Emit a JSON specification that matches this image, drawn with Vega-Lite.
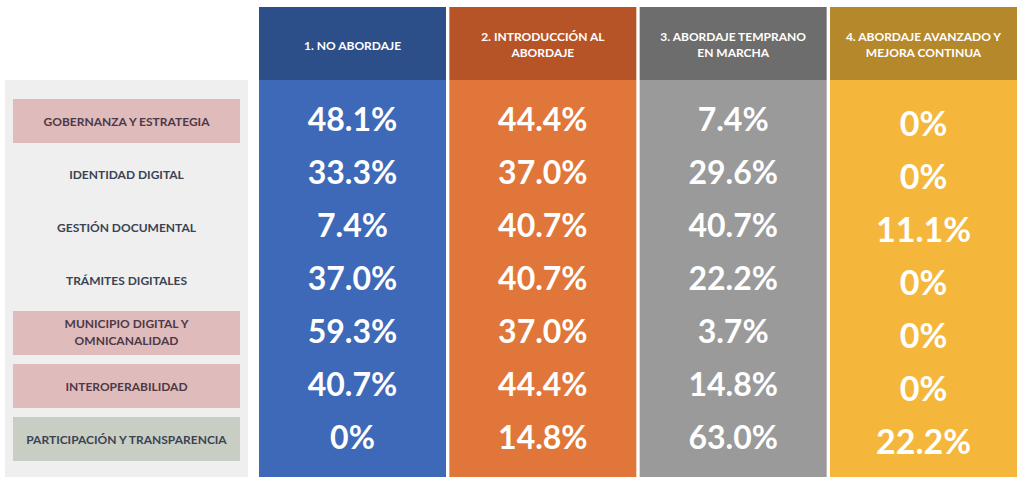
{
  "$schema": "https://vega.github.io/schema/vega-lite/v6.json",
  "padding": {"left": 5, "top": 7, "right": 7, "bottom": 4},
  "background": "white",
  "config": {"view": {"stroke": null}, "font": "Lato"},
  "datasets": {
    "valores": [
      {"area": "GOBERNANZA Y ESTRATEGIA", "nivel": "1. NO ABORDAJE", "valor": 0.481},
      {"area": "GOBERNANZA Y ESTRATEGIA", "nivel": "2. INTRODUCCIÓN AL\nABORDAJE", "valor": 0.444},
      {"area": "GOBERNANZA Y ESTRATEGIA", "nivel": "3. ABORDAJE TEMPRANO\nEN MARCHA", "valor": 0.074},
      {"area": "GOBERNANZA Y ESTRATEGIA", "nivel": "4. ABORDAJE AVANZADO Y\nMEJORA CONTINUA", "valor": 0},
      {"area": "IDENTIDAD DIGITAL", "nivel": "1. NO ABORDAJE", "valor": 0.333},
      {"area": "IDENTIDAD DIGITAL", "nivel": "2. INTRODUCCIÓN AL\nABORDAJE", "valor": 0.370},
      {"area": "IDENTIDAD DIGITAL", "nivel": "3. ABORDAJE TEMPRANO\nEN MARCHA", "valor": 0.296},
      {"area": "IDENTIDAD DIGITAL", "nivel": "4. ABORDAJE AVANZADO Y\nMEJORA CONTINUA", "valor": 0},
      {"area": "GESTIÓN DOCUMENTAL", "nivel": "1. NO ABORDAJE", "valor": 0.074},
      {"area": "GESTIÓN DOCUMENTAL", "nivel": "2. INTRODUCCIÓN AL\nABORDAJE", "valor": 0.407},
      {"area": "GESTIÓN DOCUMENTAL", "nivel": "3. ABORDAJE TEMPRANO\nEN MARCHA", "valor": 0.407},
      {"area": "GESTIÓN DOCUMENTAL", "nivel": "4. ABORDAJE AVANZADO Y\nMEJORA CONTINUA", "valor": 0.111},
      {"area": "TRÁMITES DIGITALES", "nivel": "1. NO ABORDAJE", "valor": 0.370},
      {"area": "TRÁMITES DIGITALES", "nivel": "2. INTRODUCCIÓN AL\nABORDAJE", "valor": 0.407},
      {"area": "TRÁMITES DIGITALES", "nivel": "3. ABORDAJE TEMPRANO\nEN MARCHA", "valor": 0.222},
      {"area": "TRÁMITES DIGITALES", "nivel": "4. ABORDAJE AVANZADO Y\nMEJORA CONTINUA", "valor": 0},
      {"area": "MUNICIPIO DIGITAL Y\nOMNICANALIDAD", "nivel": "1. NO ABORDAJE", "valor": 0.593},
      {"area": "MUNICIPIO DIGITAL Y\nOMNICANALIDAD", "nivel": "2. INTRODUCCIÓN AL\nABORDAJE", "valor": 0.370},
      {"area": "MUNICIPIO DIGITAL Y\nOMNICANALIDAD", "nivel": "3. ABORDAJE TEMPRANO\nEN MARCHA", "valor": 0.037},
      {"area": "MUNICIPIO DIGITAL Y\nOMNICANALIDAD", "nivel": "4. ABORDAJE AVANZADO Y\nMEJORA CONTINUA", "valor": 0},
      {"area": "INTEROPERABILIDAD", "nivel": "1. NO ABORDAJE", "valor": 0.407},
      {"area": "INTEROPERABILIDAD", "nivel": "2. INTRODUCCIÓN AL\nABORDAJE", "valor": 0.444},
      {"area": "INTEROPERABILIDAD", "nivel": "3. ABORDAJE TEMPRANO\nEN MARCHA", "valor": 0.148},
      {"area": "INTEROPERABILIDAD", "nivel": "4. ABORDAJE AVANZADO Y\nMEJORA CONTINUA", "valor": 0},
      {"area": "PARTICIPACIÓN Y TRANSPARENCIA", "nivel": "1. NO ABORDAJE", "valor": 0},
      {"area": "PARTICIPACIÓN Y TRANSPARENCIA", "nivel": "2. INTRODUCCIÓN AL\nABORDAJE", "valor": 0.148},
      {"area": "PARTICIPACIÓN Y TRANSPARENCIA", "nivel": "3. ABORDAJE TEMPRANO\nEN MARCHA", "valor": 0.630},
      {"area": "PARTICIPACIÓN Y TRANSPARENCIA", "nivel": "4. ABORDAJE AVANZADO Y\nMEJORA CONTINUA", "valor": 0.222}
    ]
  },
  "data": {"name": "valores"},
  "spacing": 0,
  "resolve": {"scale": {"x": "independent", "y": "independent", "color": "independent", "fill": "independent"}},
  "vconcat": [
    {
      "spacing": 11,
      "resolve": {"scale": {"x": "independent", "y": "independent", "color": "independent", "fill": "independent"}},
      "hconcat": [
        {
          "width": 243,
          "height": 73,
          "data": {"values": [{}]},
          "mark": {"type": "text"},
          "encoding": {"text": {"value": ""}}
        },
        {
          "width": 758,
          "height": 73,
          "transform": [{"aggregate": [{"op": "count", "as": "n"}], "groupby": ["nivel"]}],
          "layer": [
            {
              "mark": {"type": "rect"},
              "encoding": {
                "x": {"field": "nivel", "type": "nominal", "axis": null,
                  "scale": {"type": "band", "domain": ["1. NO ABORDAJE", "2. INTRODUCCIÓN AL\nABORDAJE", "3. ABORDAJE TEMPRANO\nEN MARCHA", "4. ABORDAJE AVANZADO Y\nMEJORA CONTINUA"], "paddingInner": 0.0175, "paddingOuter": 0}},
                "fill": {"field": "nivel", "type": "nominal", "legend": null,
                  "scale": {"domain": ["1. NO ABORDAJE", "2. INTRODUCCIÓN AL\nABORDAJE", "3. ABORDAJE TEMPRANO\nEN MARCHA", "4. ABORDAJE AVANZADO Y\nMEJORA CONTINUA"], "range": ["#2C4E89", "#B75427", "#6D6D6D", "#B5882B"]}}
              }
            },
            {
              "transform": [{"filter": "indexof(datum.nivel, '\\n') < 0"}],
              "mark": {"type": "text", "color": "white", "fontSize": 12, "fontWeight": "bold", "lineBreak": "\n", "lineHeight": 16, "baseline": "middle", "align": "center", "dy": 2},
              "encoding": {
                "x": {"field": "nivel", "type": "nominal", "axis": null,
                  "scale": {"type": "band", "domain": ["1. NO ABORDAJE", "2. INTRODUCCIÓN AL\nABORDAJE", "3. ABORDAJE TEMPRANO\nEN MARCHA", "4. ABORDAJE AVANZADO Y\nMEJORA CONTINUA"], "paddingInner": 0.0175, "paddingOuter": 0}},
                "text": {"field": "nivel", "type": "nominal"}
              }
            },
            {
              "transform": [{"filter": "indexof(datum.nivel, '\\n') >= 0"}],
              "mark": {"type": "text", "color": "white", "fontSize": 12, "fontWeight": "bold", "lineBreak": "\n", "lineHeight": 16, "baseline": "middle", "align": "center", "dy": -7},
              "encoding": {
                "x": {"field": "nivel", "type": "nominal", "axis": null,
                  "scale": {"type": "band", "domain": ["1. NO ABORDAJE", "2. INTRODUCCIÓN AL\nABORDAJE", "3. ABORDAJE TEMPRANO\nEN MARCHA", "4. ABORDAJE AVANZADO Y\nMEJORA CONTINUA"], "paddingInner": 0.0175, "paddingOuter": 0}},
                "text": {"field": "nivel", "type": "nominal"}
              }
            }
          ]
        }
      ]
    },
    {
      "spacing": 11,
      "resolve": {"scale": {"x": "independent", "y": "independent", "color": "independent", "fill": "independent"}},
      "hconcat": [
        {
          "width": 243,
          "height": 397,
          "view": {"fill": "#EFEFEF", "stroke": null},
          "transform": [{"aggregate": [{"op": "count", "as": "n"}], "groupby": ["area"]}],
          "layer": [
            {
              "transform": [{"filter": "indexof(['GOBERNANZA Y ESTRATEGIA', 'MUNICIPIO DIGITAL Y\\nOMNICANALIDAD', 'INTEROPERABILIDAD', 'PARTICIPACIÓN Y TRANSPARENCIA'], datum.area) >= 0"}],
              "mark": {"type": "rect", "height": {"band": 0.83}},
              "encoding": {
                "x": {"datum": "Área", "type": "nominal", "axis": null, "scale": {"type": "band", "paddingInner": 0, "paddingOuter": 0.0352}},
                "y": {"field": "area", "type": "nominal", "axis": null,
                  "scale": {"type": "band", "domain": ["GOBERNANZA Y ESTRATEGIA", "IDENTIDAD DIGITAL", "GESTIÓN DOCUMENTAL", "TRÁMITES DIGITALES", "MUNICIPIO DIGITAL Y\nOMNICANALIDAD", "INTEROPERABILIDAD", "PARTICIPACIÓN Y TRANSPARENCIA"], "paddingInner": 0, "paddingOuter": 0.245, "align": 0.56}},
                "color": {"condition": {"test": "datum.area === 'PARTICIPACIÓN Y TRANSPARENCIA'", "value": "#C9CEC4"}, "value": "#E0BBBC"}
              }
            },
            {
              "transform": [{"filter": "indexof(datum.area, '\\n') < 0"}],
              "mark": {"type": "text", "fontSize": 12, "fontWeight": "bold", "lineBreak": "\n", "lineHeight": 16, "baseline": "middle", "align": "center", "dy": 1},
              "encoding": {
                "x": {"datum": "Área", "type": "nominal", "axis": null, "scale": {"type": "band", "paddingInner": 0, "paddingOuter": 0.0352}},
                "y": {"field": "area", "type": "nominal", "axis": null,
                  "scale": {"type": "band", "domain": ["GOBERNANZA Y ESTRATEGIA", "IDENTIDAD DIGITAL", "GESTIÓN DOCUMENTAL", "TRÁMITES DIGITALES", "MUNICIPIO DIGITAL Y\nOMNICANALIDAD", "INTEROPERABILIDAD", "PARTICIPACIÓN Y TRANSPARENCIA"], "paddingInner": 0, "paddingOuter": 0.245, "align": 0.56}},
                "text": {"field": "area", "type": "nominal"},
                "color": {"condition": {"test": "indexof(['GOBERNANZA Y ESTRATEGIA', 'INTEROPERABILIDAD'], datum.area) >= 0", "value": "#4C3946"}, "value": "#3B4352"}
              }
            },
            {
              "transform": [{"filter": "indexof(datum.area, '\\n') >= 0"}],
              "mark": {"type": "text", "fontSize": 12, "fontWeight": "bold", "lineBreak": "\n", "lineHeight": 17, "baseline": "middle", "align": "center", "dy": -9, "color": "#4C3946"},
              "encoding": {
                "x": {"datum": "Área", "type": "nominal", "axis": null, "scale": {"type": "band", "paddingInner": 0, "paddingOuter": 0.0352}},
                "y": {"field": "area", "type": "nominal", "axis": null,
                  "scale": {"type": "band", "domain": ["GOBERNANZA Y ESTRATEGIA", "IDENTIDAD DIGITAL", "GESTIÓN DOCUMENTAL", "TRÁMITES DIGITALES", "MUNICIPIO DIGITAL Y\nOMNICANALIDAD", "INTEROPERABILIDAD", "PARTICIPACIÓN Y TRANSPARENCIA"], "paddingInner": 0, "paddingOuter": 0.245, "align": 0.56}},
                "text": {"field": "area", "type": "nominal"}
              }
            }
          ]
        },
        {
          "width": 758,
          "height": 397,
          "layer": [
            {
              "transform": [{"aggregate": [{"op": "count", "as": "n"}], "groupby": ["nivel"]}],
              "mark": {"type": "rect"},
              "encoding": {
                "x": {"field": "nivel", "type": "nominal", "axis": null,
                  "scale": {"type": "band", "domain": ["1. NO ABORDAJE", "2. INTRODUCCIÓN AL\nABORDAJE", "3. ABORDAJE TEMPRANO\nEN MARCHA", "4. ABORDAJE AVANZADO Y\nMEJORA CONTINUA"], "paddingInner": 0.0175, "paddingOuter": 0}},
                "color": {"field": "nivel", "type": "nominal", "legend": null,
                  "scale": {"domain": ["1. NO ABORDAJE", "2. INTRODUCCIÓN AL\nABORDAJE", "3. ABORDAJE TEMPRANO\nEN MARCHA", "4. ABORDAJE AVANZADO Y\nMEJORA CONTINUA"], "range": ["#3E69B8", "#E07639", "#9A9A9A", "#F5B73B"]}}
              }
            },
            {
              "transform": [{"filter": "datum.nivel !== '4. ABORDAJE AVANZADO Y\\nMEJORA CONTINUA'"}],
              "mark": {"type": "text", "color": "white", "fontSize": 32, "fontWeight": "bold", "baseline": "middle", "align": "center", "dy": 0},
              "encoding": {
                "x": {"field": "nivel", "type": "nominal", "axis": null,
                  "scale": {"type": "band", "domain": ["1. NO ABORDAJE", "2. INTRODUCCIÓN AL\nABORDAJE", "3. ABORDAJE TEMPRANO\nEN MARCHA", "4. ABORDAJE AVANZADO Y\nMEJORA CONTINUA"], "paddingInner": 0.0175, "paddingOuter": 0}},
                "y": {"field": "area", "type": "nominal", "axis": null,
                  "scale": {"type": "band", "domain": ["GOBERNANZA Y ESTRATEGIA", "IDENTIDAD DIGITAL", "GESTIÓN DOCUMENTAL", "TRÁMITES DIGITALES", "MUNICIPIO DIGITAL Y\nOMNICANALIDAD", "INTEROPERABILIDAD", "PARTICIPACIÓN Y TRANSPARENCIA"], "paddingInner": 0, "paddingOuter": 0.245, "align": 0.56}},
                "text": {"condition": {"test": "datum.valor === 0", "value": "0%"}, "field": "valor", "type": "quantitative", "format": ".1%"}
              }
            },
            {
              "transform": [{"filter": "datum.nivel === '4. ABORDAJE AVANZADO Y\\nMEJORA CONTINUA'"}],
              "mark": {"type": "text", "color": "white", "fontSize": 34, "fontWeight": "bold", "baseline": "middle", "align": "center", "dy": 5},
              "encoding": {
                "x": {"field": "nivel", "type": "nominal", "axis": null,
                  "scale": {"type": "band", "domain": ["1. NO ABORDAJE", "2. INTRODUCCIÓN AL\nABORDAJE", "3. ABORDAJE TEMPRANO\nEN MARCHA", "4. ABORDAJE AVANZADO Y\nMEJORA CONTINUA"], "paddingInner": 0.0175, "paddingOuter": 0}},
                "y": {"field": "area", "type": "nominal", "axis": null,
                  "scale": {"type": "band", "domain": ["GOBERNANZA Y ESTRATEGIA", "IDENTIDAD DIGITAL", "GESTIÓN DOCUMENTAL", "TRÁMITES DIGITALES", "MUNICIPIO DIGITAL Y\nOMNICANALIDAD", "INTEROPERABILIDAD", "PARTICIPACIÓN Y TRANSPARENCIA"], "paddingInner": 0, "paddingOuter": 0.245, "align": 0.56}},
                "text": {"condition": {"test": "datum.valor === 0", "value": "0%"}, "field": "valor", "type": "quantitative", "format": ".1%"}
              }
            }
          ]
        }
      ]
    }
  ]
}
